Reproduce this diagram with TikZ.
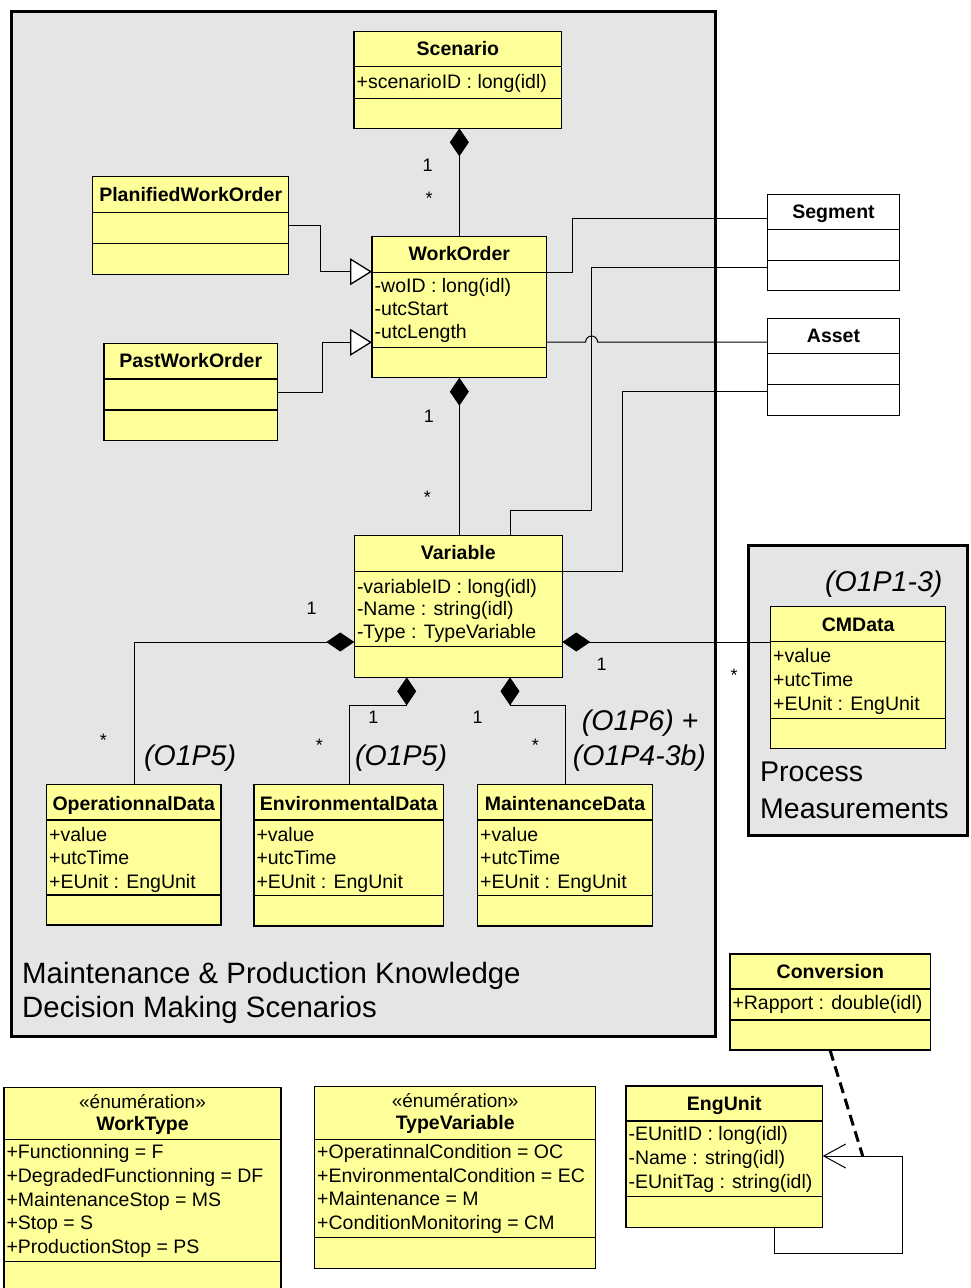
\documentclass[tikz,border=0pt]{standalone}
\usepackage{fontspec}
\setmainfont{Liberation Sans}
\usetikzlibrary{arrows.meta}
\definecolor{classfill}{HTML}{FFFF99}
\definecolor{pkgfill}{HTML}{E5E5E5}

\tikzset{
  classbox/.style={draw=black, line width=1.3pt, fill=classfill, inner sep=0pt, outer sep=0pt},
  whitebox/.style={fill=white},
  classrule/.style={draw=black, line width=1.3pt},
  pkgframe/.style={draw=black, line width=3pt, fill=pkgfill, inner sep=0pt, outer sep=0pt},
  title/.style={font=\fontsize{19.5}{23}\selectfont\bfseries, anchor=base, inner sep=0pt},
  stereo/.style={font=\fontsize{19}{23}\selectfont, anchor=base, inner sep=0pt},
  attr/.style={font=\fontsize{19.5}{23}\selectfont, anchor=base west, inner sep=0pt},
  mult/.style={font=\fontsize{18}{22}\selectfont, anchor=base, inner sep=0pt},
  note/.style={font=\fontsize{28.5}{34}\selectfont\itshape, anchor=base west, inner sep=0pt},
  pkglabel/.style={font=\fontsize{28.5}{34}\selectfont, anchor=base west, inner sep=0pt},
  biglabel/.style={pkglabel, font=\fontsize{29.4}{34}\selectfont},
  link/.style={draw=black, line width=1pt},
  compos/.style={link, -{Diamond[length=28pt,width=19pt]}},
  generalise/.style={link, -{Triangle[open,length=22pt,width=27pt,fill=white,line width=1.3pt]}},
  navig/.style={link, -{Straight Barb[length=22pt,width=24pt]}},
  assocdash/.style={draw=black, line width=3pt, dash pattern=on 11pt off 6pt},
}

% class box: name, x1, y1, x2, y2, first rule, second rule, extra style
\newcommand\umlclass[8]{%
  \node[classbox,#8,minimum width={(#4)-(#2)},minimum height={(#5)-(#3)},anchor=north west] (#1) at (#2,#3) {};
  \draw[classrule] (#1.west |- 0,#6) -- (#1.east |- 0,#6);
  \draw[classrule] (#1.west |- 0,#7) -- (#1.east |- 0,#7);
}
% attribute lines: prefix, left x, first baseline, pitch, entries
\newcommand\attrlist[5]{%
  \foreach \entry [count=\k from 0] in {#5} {
    \node[attr] (#1-\k) at (#2, {#3+\k*#4}) {\entry};
  }
}

\begin{document}
\begin{tikzpicture}[x=1pt, y=-1pt]
\useasboundingbox (0,0) rectangle (970,1288);
\fill[white] (0,0) rectangle (970,1288);

% packages
\node[pkgframe, minimum width=704, minimum height=1025, anchor=north west] (mpk) at (11,11) {};
\node[pkgframe, minimum width=219, minimum height=290.7, anchor=north west] (pmf) at (748.3,545) {};

% classes
\umlclass{scen}{354}{31.5}{561.7}{128.3}{66.7}{98.3}{}
\node[title] (scen-t) at (457.9,55.3) {Scenario};
\attrlist{scen}{356.5}{88.7}{23}{+scenarioID : long(idl)}

\umlclass{pwo}{92.7}{176.7}{288.7}{274.3}{212.3}{243.3}{}
\node[title] (pwo-t) at (190.7,201) {PlanifiedWorkOrder};

\umlclass{pastwo}{104}{343.3}{277.7}{440.7}{379}{410}{}
\node[title] (pastwo-t) at (190.8,367.7) {PastWorkOrder};

\umlclass{wo}{372}{236.7}{546.7}{377.7}{272.3}{347.7}{}
\node[title] (wo-t) at (459.3,260.3) {WorkOrder};
\attrlist{wo}{374.5}{292}{23.3}{-woID : long(idl),-utcStart,-utcLength}

\umlclass{var}{354.3}{535.7}{562.3}{677.3}{571.7}{646.7}{}
\node[title] (var-t) at (458.3,559.3) {Variable};
\attrlist{var}{356.8}{593.7}{22.2}{-variableID : long(idl),-Name : string(idl),-Type : TypeVariable}

\umlclass{seg}{767.7}{194.3}{899.3}{290.7}{229.3}{260.7}{whitebox}
\node[title] (seg-t) at (833.5,218.7) {Segment};

\umlclass{asset}{767.7}{318.3}{899.3}{415.3}{353.3}{384.3}{whitebox}
\node[title] (asset-t) at (833.5,342.7) {Asset};

\umlclass{cm}{770.7}{606.7}{945.7}{748.3}{641.7}{718.3}{}
\node[title] (cm-t) at (858.2,631.3) {CMData};
\attrlist{cm}{773}{662}{24}{+value,+utcTime,+EUnit : EngUnit}

\umlclass{op}{46.7}{784.3}{221}{925}{820}{895}{}
\node[title] (op-t) at (133.8,810.3) {OperationnalData};
\attrlist{op}{49}{841}{23.8}{+value,+utcTime,+EUnit : EngUnit}

\umlclass{env}{254}{784.3}{443.3}{926}{820}{895.7}{}
\node[title] (env-t) at (348.7,810.3) {EnvironmentalData};
\attrlist{env}{256.3}{841}{23.8}{+value,+utcTime,+EUnit : EngUnit}

\umlclass{maint}{477.7}{784.3}{652.3}{926}{820}{895.7}{}
\node[title] (maint-t) at (565,810.3) {MaintenanceData};
\attrlist{maint}{480}{841}{23.8}{+value,+utcTime,+EUnit : EngUnit}

\umlclass{conv}{730}{954}{930.7}{1050}{989}{1020}{}
\node[title] (conv-t) at (830.3,978) {Conversion};
\attrlist{conv}{732.3}{1009.7}{23}{+Rapport : double(idl)}

\umlclass{eng}{626}{1086}{822.7}{1227.3}{1121}{1196.7}{}
\node[title] (eng-t) at (724.3,1110.3) {EngUnit};
\attrlist{eng}{628.3}{1140.3}{24.2}{-EUnitID : long(idl),-Name : string(idl),-EUnitTag : string(idl)}

\umlclass{wtype}{4}{1087.3}{281}{1300}{1139.3}{1261.7}{}
\node[stereo] (wtype-s) at (142.5,1108.5) {«énumération»};
\node[title] (wtype-t) at (142.5,1130) {WorkType};
\attrlist{wtype}{6.3}{1158.7}{23.75}{+Functionning = F,+DegradedFunctionning = DF,+MaintenanceStop = MS,+Stop = S,+ProductionStop = PS}

\umlclass{tvar}{314.7}{1086.7}{595.7}{1268.3}{1139.3}{1237.7}{}
\node[stereo] (tvar-s) at (455.2,1107.5) {«énumération»};
\node[title] (tvar-t) at (455.2,1129.7) {TypeVariable};
\attrlist{tvar}{317}{1158.7}{23.6}{+OperatinnalCondition = OC,+EnvironmentalCondition = EC,+Maintenance = M,+ConditionMonitoring = CM}

% compositions
\draw[compos] (wo.north) -- (wo.north |- scen.south);
\draw[compos] (wo.south |- var.north) -- (wo.south);
\draw[compos] ([xshift=87.3pt]op.north west) |- ([yshift=-106.3pt]var.north west);
\draw[compos] ([yshift=-35.3pt]cm.north west) -- ([yshift=-106.3pt]var.north east);
\draw[compos] ([xshift=95pt]env.north west) -- ++(0,-79.3) -| ([xshift=52.4pt]var.south west);
\draw[compos] ([xshift=87.3pt]maint.north west) -- ++(0,-79.3) -| ([xshift=155.7pt]var.south west);

% generalisations
\draw[generalise] (pwo.east) -- ++(32,0) |- ([yshift=-35pt]wo.north west);
\draw[generalise] (pastwo.east) -- ++(45,0) |- ([yshift=-105.6pt]wo.north west);

% plain associations
\draw[link] ([yshift=-35.6pt]wo.north east) -- ++(25.6,0) |- ([yshift=-24pt]seg.north west);
\draw[link] ([xshift=155.7pt]var.north west) -- ++(0,-25.7) -- ++(81.7,0) |- ([yshift=-73pt]seg.north west);
\draw[link] ([yshift=-105.3pt]wo.north east) -- ++(38.9,0) arc[start angle=180,end angle=0,radius=6pt] -- ([yshift=-23.7pt]asset.north west);
\draw[link] ([yshift=-36pt]var.north east) -- ++(60,0) |- ([yshift=-72.7pt]asset.north west);

% EngUnit self-association with its association class
\coordinate (assocpt) at ([xshift=40pt,yshift=-70pt]eng.north east);
\draw[navig] ([xshift=148pt]eng.south west) -- ++(0,26) -- ++(128.7,0) |- ([yshift=-70pt]eng.north east);
\draw[assocdash] ([xshift=100pt]conv.south west) -- (assocpt);

% multiplicities
\node[mult] (m1) at (427.7,171.8) {1};
\node[mult] (m2) at (429,204) {*};
\node[mult] (m3) at (429,422.5) {1};
\node[mult] (m4) at (427.3,503) {*};
\node[mult] (m5) at (311.7,614.5) {1};
\node[mult] (m6) at (103.3,746) {*};
\node[mult] (m7) at (601.7,670.8) {1};
\node[mult] (m8) at (734,681) {*};
\node[mult] (m9) at (373.3,723.5) {1};
\node[mult] (m10) at (319.3,751) {*};
\node[mult] (m11) at (477.7,723.5) {1};
\node[mult] (m12) at (535.3,751) {*};

% annotations
\node[note] (n1) at (144,765) {(O1P5)};
\node[note] (n2) at (355,765) {(O1P5)};
\node[note] (n3) at (581.7,730.5) {(O1P6) +};
\node[note] (n4) at (572.7,765.5) {(O1P4-3b)};
\node[note] (n5) at (825,591) {(O1P1-3)};

% package names
\node[biglabel] (p1) at (22,983) {Maintenance \& Production Knowledge};
\node[biglabel] (p2) at (22,1017) {Decision Making Scenarios};
\node[pkglabel] (p3) at (760,781) {Process};
\node[pkglabel] (p4) at (760,818) {Measurements};
\end{tikzpicture}
\end{document}
